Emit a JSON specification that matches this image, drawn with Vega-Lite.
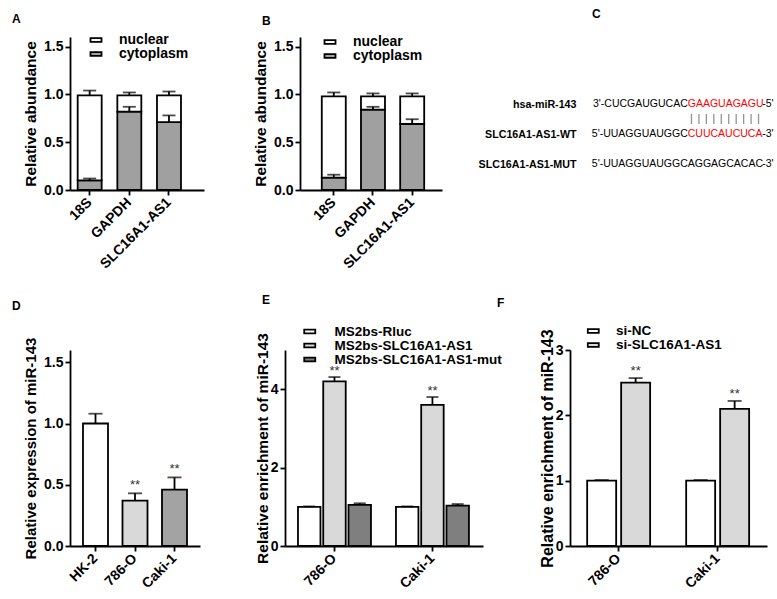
{
  "$schema": "https://vega.github.io/schema/vega-lite/v6.json",
  "autosize": {"type": "none"},
  "padding": {"left": 70, "top": 37, "right": 707, "bottom": 562},
  "background": "white",
  "columns": 3,
  "align": "none",
  "bounds": "flush",
  "spacing": {"row": 160, "column": 85},
  "resolve": {"scale": {"fill": "independent", "color": "independent", "xOffset": "independent", "x": "independent", "y": "independent"}, "legend": {"fill": "independent", "color": "independent"}},
  "config": {
    "font": "Liberation Sans",
    "view": {"stroke": null},
    "text": {"font": "Liberation Sans"},
    "axis": {"domainColor": "#000", "domainWidth": 1.8, "tickColor": "#000", "tickWidth": 1.8, "tickSize": 5, "labelColor": "#000", "labelFontSize": 14, "labelFontWeight": "bold", "labelPadding": 2, "titleColor": "#000", "titleFontSize": 15.5, "titleFontWeight": "bold", "grid": false, "labelFont": "Liberation Sans", "titleFont": "Liberation Sans", "titlePadding": 5},
    "axisX": {"labelAngle": -45, "labelAlign": "right", "labelBaseline": "middle", "labelPadding": 5, "title": null},
    "legend": {"title": null, "orient": "none", "padding": 0, "symbolType": "M-1.5,-0.5H1.5V0.5H-1.5Z", "symbolSize": 54, "symbolStrokeColor": "#000", "symbolStrokeWidth": 1.6, "labelFontSize": 14, "labelFontWeight": "bold", "labelColor": "#000", "labelOffset": 16, "labelLimit": 300, "rowPadding": 0, "labelFont": "Liberation Sans"},
    "title": {"fontSize": 12, "fontWeight": "bold", "anchor": "start", "frame": "group", "color": "#000", "font": "Liberation Sans", "offset": 8},
    "bar": {"stroke": "#000", "strokeWidth": 1.8},
    "tick": {"color": "#000", "thickness": 1.8},
    "rule": {"color": "#000", "strokeWidth": 1.8}
  },
  "datasets": {
    "a_bars": [
      {"gene": "18S", "part": "cytoplasm", "value": 0.10},
      {"gene": "18S", "part": "nuclear", "value": 0.89},
      {"gene": "GAPDH", "part": "cytoplasm", "value": 0.82},
      {"gene": "GAPDH", "part": "nuclear", "value": 0.17},
      {"gene": "SLC16A1-AS1", "part": "cytoplasm", "value": 0.71},
      {"gene": "SLC16A1-AS1", "part": "nuclear", "value": 0.28}
    ],
    "a_err": [
      {"gene": "18S", "part": "cytoplasm", "top": 0.10, "hi": 0.12},
      {"gene": "18S", "part": "nuclear", "top": 0.99, "hi": 1.04},
      {"gene": "GAPDH", "part": "cytoplasm", "top": 0.82, "hi": 0.87},
      {"gene": "GAPDH", "part": "nuclear", "top": 0.99, "hi": 1.02},
      {"gene": "SLC16A1-AS1", "part": "cytoplasm", "top": 0.71, "hi": 0.78},
      {"gene": "SLC16A1-AS1", "part": "nuclear", "top": 0.99, "hi": 1.03}
    ],
    "b_bars": [
      {"gene": "18S", "part": "cytoplasm", "value": 0.13},
      {"gene": "18S", "part": "nuclear", "value": 0.85},
      {"gene": "GAPDH", "part": "cytoplasm", "value": 0.84},
      {"gene": "GAPDH", "part": "nuclear", "value": 0.14},
      {"gene": "SLC16A1-AS1", "part": "cytoplasm", "value": 0.69},
      {"gene": "SLC16A1-AS1", "part": "nuclear", "value": 0.29}
    ],
    "b_err": [
      {"gene": "18S", "part": "cytoplasm", "top": 0.13, "hi": 0.16},
      {"gene": "18S", "part": "nuclear", "top": 0.98, "hi": 1.02},
      {"gene": "GAPDH", "part": "cytoplasm", "top": 0.84, "hi": 0.87},
      {"gene": "GAPDH", "part": "nuclear", "top": 0.98, "hi": 1.01},
      {"gene": "SLC16A1-AS1", "part": "cytoplasm", "top": 0.69, "hi": 0.74},
      {"gene": "SLC16A1-AS1", "part": "nuclear", "top": 0.98, "hi": 1.01}
    ],
    "c_seq": [
      {"row": "hsa-miR-143", "part": "lead", "text": "3'-CUCGAUGUCAC", "pos": 11.5, "paired": "no"},
      {"row": "hsa-miR-143", "part": "site", "text": "GAAGUAGAGU", "pos": 11.5, "paired": "yes"},
      {"row": "hsa-miR-143", "part": "tail", "text": "-5'", "pos": 21.5, "paired": "no"},
      {"row": "SLC16A1-AS1-WT", "part": "lead", "text": "5'-UUAGGUAUGGC", "pos": 11.5, "paired": "no"},
      {"row": "SLC16A1-AS1-WT", "part": "site", "text": "CUUCAUCUCA", "pos": 11.5, "paired": "yes"},
      {"row": "SLC16A1-AS1-WT", "part": "tail", "text": "-3'", "pos": 21.5, "paired": "no"},
      {"row": "SLC16A1-AS1-MUT", "part": "lead", "text": "5'-UUAGGUAUGGC", "pos": 11.5, "paired": "no"},
      {"row": "SLC16A1-AS1-MUT", "part": "site", "text": "AGGAGCACAC", "pos": 11.5, "paired": "no"},
      {"row": "SLC16A1-AS1-MUT", "part": "tail", "text": "-3'", "pos": 21.5, "paired": "no"}
    ],
    "c_pairs": [
      {"row": "pair", "pos": 12}, {"row": "pair", "pos": 13}, {"row": "pair", "pos": 14},
      {"row": "pair", "pos": 15}, {"row": "pair", "pos": 16}, {"row": "pair", "pos": 17},
      {"row": "pair", "pos": 18}, {"row": "pair", "pos": 19}, {"row": "pair", "pos": 20},
      {"row": "pair", "pos": 21}
    ],
    "d_bars": [
      {"cell": "HK-2", "value": 1.0, "hi": 1.08, "sig": ""},
      {"cell": "786-O", "value": 0.37, "hi": 0.43, "sig": "**"},
      {"cell": "Caki-1", "value": 0.46, "hi": 0.56, "sig": "**"}
    ],
    "e_bars": [
      {"cell": "786-O", "group": "MS2bs-Rluc", "value": 1.0, "hi": 1.01, "sig": ""},
      {"cell": "786-O", "group": "MS2bs-SLC16A1-AS1", "value": 4.2, "hi": 4.31, "sig": "**"},
      {"cell": "786-O", "group": "MS2bs-SLC16A1-AS1-mut", "value": 1.05, "hi": 1.09, "sig": ""},
      {"cell": "Caki-1", "group": "MS2bs-Rluc", "value": 1.0, "hi": 1.01, "sig": ""},
      {"cell": "Caki-1", "group": "MS2bs-SLC16A1-AS1", "value": 3.6, "hi": 3.8, "sig": "**"},
      {"cell": "Caki-1", "group": "MS2bs-SLC16A1-AS1-mut", "value": 1.03, "hi": 1.07, "sig": ""}
    ],
    "f_bars": [
      {"cell": "786-O", "group": "si-NC", "value": 1.0, "hi": 1.01, "sig": ""},
      {"cell": "786-O", "group": "si-SLC16A1-AS1", "value": 2.5, "hi": 2.57, "sig": "**"},
      {"cell": "Caki-1", "group": "si-NC", "value": 1.0, "hi": 1.01, "sig": ""},
      {"cell": "Caki-1", "group": "si-SLC16A1-AS1", "value": 2.1, "hi": 2.22, "sig": "**"}
    ]
  },
  "concat": [
    {
      "width": 130, "height": 153,
      "title": {"text": "A", "dx": -58, "dy": 0},
      "layer": [
        {
          "data": {"name": "a_bars"},
          "mark": {"type": "bar"},
          "encoding": {
            "x": {"field": "gene", "type": "nominal", "sort": ["18S", "GAPDH", "SLC16A1-AS1"], "scale": {"range": [0, 134], "paddingInner": 0.395, "paddingOuter": 0.387, "align": 0.25}},
            "y": {"field": "value", "type": "quantitative", "stack": "zero", "scale": {"domain": [0, 1.5]}, "axis": {"values": [0, 0.5, 1, 1.5], "format": ".1f", "title": "Relative abundance"}},
            "fill": {"field": "part", "type": "nominal", "scale": {"domain": ["nuclear", "cytoplasm"], "range": ["#ffffff", "#a0a0a0"]}, "legend": {"legendX": 19, "legendY": -3, "clipHeight": 12}},
            "order": {"field": "part", "sort": "ascending"}
          }
        },
        {
          "data": {"name": "a_err"},
          "mark": {"type": "rule"},
          "encoding": {
            "x": {"field": "gene", "type": "nominal", "sort": ["18S", "GAPDH", "SLC16A1-AS1"]},
            "y": {"field": "top", "type": "quantitative"},
            "y2": {"field": "hi"}
          }
        },
        {
          "data": {"name": "a_err"},
          "mark": {"type": "tick", "size": 13},
          "encoding": {
            "x": {"field": "gene", "type": "nominal", "sort": ["18S", "GAPDH", "SLC16A1-AS1"]},
            "y": {"field": "hi", "type": "quantitative"}
          }
        }
      ]
    },
    {
      "width": 157, "height": 153,
      "title": {"text": "B", "dx": -23, "dy": 0},
      "layer": [
        {
          "data": {"name": "b_bars"},
          "mark": {"type": "bar"},
          "encoding": {
            "x": {"field": "gene", "type": "nominal", "sort": ["18S", "GAPDH", "SLC16A1-AS1"], "scale": {"range": [15, 157], "paddingInner": 0.388, "paddingOuter": 0.505, "align": 0.55}},
            "y": {"field": "value", "type": "quantitative", "stack": "zero", "scale": {"domain": [0, 1.5]}, "axis": {"values": [0, 0.5, 1, 1.5], "format": ".1f", "title": "Relative abundance", "offset": -15}},
            "fill": {"field": "part", "type": "nominal", "scale": {"domain": ["nuclear", "cytoplasm"], "range": ["#ffffff", "#a0a0a0"]}, "legend": {"legendX": 38, "legendY": -1, "clipHeight": 12}},
            "order": {"field": "part", "sort": "ascending"}
          }
        },
        {
          "data": {"name": "b_err"},
          "mark": {"type": "rule"},
          "encoding": {
            "x": {"field": "gene", "type": "nominal", "sort": ["18S", "GAPDH", "SLC16A1-AS1"]},
            "y": {"field": "top", "type": "quantitative"},
            "y2": {"field": "hi"}
          }
        },
        {
          "data": {"name": "b_err"},
          "mark": {"type": "tick", "size": 13},
          "encoding": {
            "x": {"field": "gene", "type": "nominal", "sort": ["18S", "GAPDH", "SLC16A1-AS1"]},
            "y": {"field": "hi", "type": "quantitative"}
          }
        }
      ]
    },
    {
      "width": 207, "height": 153,
      "title": {"text": "C", "dx": 22, "dy": -8},
      "layer": [
        {
          "data": {"name": "c_seq"},
          "transform": [{"filter": "datum.part === 'lead'"}],
          "mark": {"type": "text", "align": "right", "baseline": "middle", "fontSize": 10.5, "font": "Liberation Sans"},
          "encoding": {
            "x": {"field": "pos", "type": "quantitative", "scale": {"domain": [11.5, 21.5], "range": [114, 196], "zero": false}, "axis": null},
            "y": {"field": "row", "type": "nominal", "scale": {"type": "point", "domain": ["hsa-miR-143", "pair", "SLC16A1-AS1-WT", "gap", "SLC16A1-AS1-MUT"], "range": [67, 127], "padding": 0}, "axis": {"values": ["hsa-miR-143", "SLC16A1-AS1-WT", "SLC16A1-AS1-MUT"], "domain": false, "ticks": false, "labelPadding": 0, "offset": -6, "title": null, "labelFontSize": 10.7}},
            "text": {"field": "text"},
            "color": {"field": "paired", "type": "nominal", "scale": {"domain": ["yes", "no"], "range": ["#ff0000", "#000000"]}, "legend": null}
          }
        },
        {
          "data": {"name": "c_seq"},
          "transform": [{"filter": "datum.part !== 'lead'"}],
          "mark": {"type": "text", "align": "left", "baseline": "middle", "fontSize": 10.5, "font": "Liberation Sans"},
          "encoding": {
            "x": {"field": "pos", "type": "quantitative"},
            "y": {"field": "row", "type": "nominal"},
            "text": {"field": "text"},
            "color": {"field": "paired", "type": "nominal"}
          }
        },
        {
          "data": {"name": "c_pairs"},
          "mark": {"type": "tick", "orient": "vertical", "size": 10, "thickness": 1.3, "color": "#666"},
          "encoding": {
            "x": {"field": "pos", "type": "quantitative"},
            "y": {"field": "row", "type": "nominal"}
          }
        }
      ]
    },
    {
      "width": 130, "height": 196,
      "title": {"text": "D", "dx": -58, "dy": -16},
      "data": {"name": "d_bars"},
      "encoding": {
        "x": {"field": "cell", "type": "nominal", "sort": ["HK-2", "786-O", "Caki-1"], "scale": {"paddingInner": 0.367, "paddingOuter": 0.329, "align": 0.5}}
      },
      "layer": [
        {
          "mark": {"type": "bar"},
          "encoding": {
            "y": {"field": "value", "type": "quantitative", "scale": {"domain": [0, 1.5]}, "axis": {"values": [0, 0.5, 1, 1.5], "format": ".1f", "title": "Relative expression of miR-143", "titleFontSize": 15}},
            "fill": {"field": "cell", "type": "nominal", "scale": {"domain": ["HK-2", "786-O", "Caki-1"], "range": ["#ffffff", "#d9d9d9", "#a3a3a3"]}, "legend": null}
          }
        },
        {
          "mark": {"type": "rule"},
          "encoding": {"y": {"field": "value", "type": "quantitative"}, "y2": {"field": "hi"}}
        },
        {
          "mark": {"type": "tick", "size": 14},
          "encoding": {"y": {"field": "hi", "type": "quantitative"}}
        },
        {
          "mark": {"type": "text", "baseline": "bottom", "fontSize": 13, "color": "#333", "dy": -1},
          "encoding": {"y": {"field": "hi", "type": "quantitative"}, "text": {"field": "sig"}}
        }
      ]
    },
    {
      "width": 200, "height": 196,
      "title": {"text": "E", "dx": -23, "dy": -11},
      "data": {"name": "e_bars"},
      "encoding": {
        "x": {"field": "cell", "type": "nominal", "sort": ["786-O", "Caki-1"], "scale": {"range": [0, 198], "paddingInner": 0.255, "paddingOuter": 0.138, "align": 0.48}},
        "xOffset": {"field": "group", "type": "nominal", "sort": ["MS2bs-Rluc", "MS2bs-SLC16A1-AS1", "MS2bs-SLC16A1-AS1-mut"], "scale": {"paddingInner": 0.11, "paddingOuter": 0}}
      },
      "layer": [
        {
          "mark": {"type": "bar"},
          "encoding": {
            "y": {"field": "value", "type": "quantitative", "scale": {"domain": [0, 5]}, "axis": {"values": [0, 1, 2, 3, 4, 5], "format": "d", "title": "Relative enrichment of miR-143", "titlePadding": 0}},
            "fill": {"field": "group", "type": "nominal", "scale": {"domain": ["MS2bs-Rluc", "MS2bs-SLC16A1-AS1", "MS2bs-SLC16A1-AS1-mut"], "range": ["#ffffff", "#d9d9d9", "#7f7f7f"]}, "legend": {"legendX": 18, "legendY": -24, "labelFontSize": 13.5, "clipHeight": 11, "labelOffset": 18}}
          }
        },
        {
          "mark": {"type": "rule"},
          "encoding": {"y": {"field": "value", "type": "quantitative"}, "y2": {"field": "hi"}}
        },
        {
          "mark": {"type": "tick", "size": 12},
          "encoding": {"y": {"field": "hi", "type": "quantitative"}}
        },
        {
          "mark": {"type": "text", "baseline": "bottom", "fontSize": 13, "color": "#333", "dy": 1},
          "encoding": {"y": {"field": "hi", "type": "quantitative"}, "text": {"field": "sig"}}
        }
      ]
    },
    {
      "width": 197, "height": 196,
      "title": {"text": "F", "dx": -73, "dy": -8},
      "data": {"name": "f_bars"},
      "encoding": {
        "x": {"field": "cell", "type": "nominal", "sort": ["786-O", "Caki-1"], "scale": {"paddingInner": 0.364, "paddingOuter": 0.177, "align": 0.49}},
        "xOffset": {"field": "group", "type": "nominal", "sort": ["si-NC", "si-SLC16A1-AS1"], "scale": {"paddingInner": 0.147, "paddingOuter": 0}}
      },
      "layer": [
        {
          "mark": {"type": "bar"},
          "encoding": {
            "y": {"field": "value", "type": "quantitative", "scale": {"domain": [0, 3]}, "axis": {"values": [0, 1, 2, 3], "format": "d", "title": "Relative enrichment of miR-143", "titlePadding": 0, "titleFontSize": 16}},
            "fill": {"field": "group", "type": "nominal", "scale": {"domain": ["si-NC", "si-SLC16A1-AS1"], "range": ["#ffffff", "#d9d9d9"]}, "legend": {"legendX": 16.5, "legendY": -24.5, "labelFontSize": 13.5, "clipHeight": 11}}
          }
        },
        {
          "mark": {"type": "rule"},
          "encoding": {"y": {"field": "value", "type": "quantitative"}, "y2": {"field": "hi"}}
        },
        {
          "mark": {"type": "tick", "size": 14},
          "encoding": {"y": {"field": "hi", "type": "quantitative"}}
        },
        {
          "mark": {"type": "text", "baseline": "bottom", "fontSize": 13, "color": "#333", "dy": 0},
          "encoding": {"y": {"field": "hi", "type": "quantitative"}, "text": {"field": "sig"}}
        }
      ]
    }
  ]
}
